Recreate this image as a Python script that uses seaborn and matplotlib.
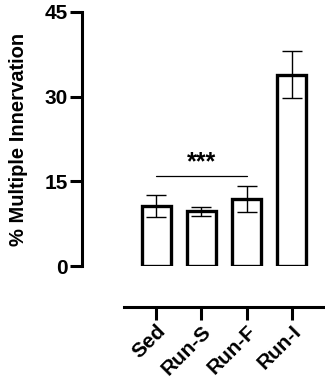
import numpy as np
import pandas as pd
import matplotlib
matplotlib.use('Agg')
import matplotlib.pyplot as plt
import seaborn as sns

# Values (mean +/- SEM)
groups = ['Sed', 'Run-S', 'Run-F', 'Run-I']
means = [10.6, 9.7, 11.9, 33.9]
sems = [2.0, 0.8, 2.3, 4.2]
yticks = [0, 15, 30, 45]

df = pd.DataFrame({'group': groups, 'mean': means, 'sem': sems})

sns.set_style('white')
plt.rcParams['font.family'] = ['Liberation Sans', 'DejaVu Sans']
plt.rcParams['font.weight'] = 'bold'
for k in ['text.color', 'axes.labelcolor', 'xtick.color', 'ytick.color', 'axes.edgecolor']:
    plt.rcParams[k] = 'black'

fig = plt.figure(figsize=(3.25, 3.8), dpi=100)
ax = fig.add_axes([124 / 325, 1 - 266 / 380, 199 / 325, 254 / 380])

sns.barplot(data=df, x='group', y='mean', color='white', edgecolor='black',
            linewidth=2.4, width=0.64, errorbar=None, ax=ax)
ax.errorbar(np.arange(len(groups)), df['mean'], yerr=df['sem'], fmt='none',
            ecolor='black', elinewidth=1.0, capsize=7, capthick=1.0, zorder=5)

# significance bracket Sed vs Run-F
ax.plot([0, 2], [15.9, 15.9], color='black', lw=0.9)
ax.text(1, 16.3, '***', ha='center', va='bottom', fontsize=18, fontweight='bold')

ax.set_xlim(-0.71, 3.69)
ax.set_ylim(0, 45)
sns.despine(ax=ax)
ax.spines['left'].set_position(('outward', 30))
ax.spines['bottom'].set_position(('outward', 29.5))
for side in ['left', 'bottom']:
    ax.spines[side].set_linewidth(2.2)
ax.tick_params(axis='both', which='major', length=9, width=2.2, direction='out',
               left=True, bottom=True, pad=1.5, colors='black')

ax.set_yticks(yticks)
ax.set_yticklabels([str(t) for t in yticks])
ax.set_xticks(range(len(groups)))
ax.set_xticklabels(groups)
plt.setp(ax.get_yticklabels(), fontsize=15, fontweight='bold')
plt.setp(ax.get_xticklabels(), rotation=45, ha='right', rotation_mode='anchor',
         fontsize=15, fontweight='bold')
ax.set_xlabel('')
ax.set_ylabel('% Multiple Innervation', fontsize=14.5, fontweight='bold', labelpad=12)

fig.savefig('out.png', dpi=100)
